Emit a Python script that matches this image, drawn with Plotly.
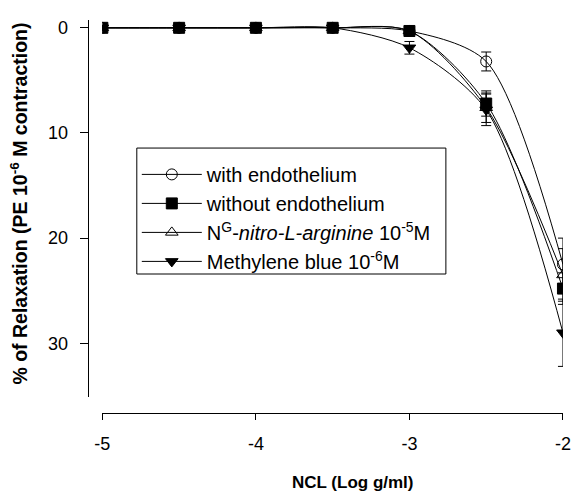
import plotly.graph_objects as go

log_conc = [-5, -4.5, -4, -3.5, -3, -2.5, -2]

with_endo = [0, 0, 0, 0, 0.3, 3.2, 22.5]
with_endo_err = [0.2, 0.2, 0.2, 0.2, 0.3, 0.9, 2.5]

without_endo = [0, 0, 0, 0, 0.3, 7.2, 24.8]
without_endo_err = [0.2, 0.2, 0.2, 0.2, 0.3, 1.2, 1.5]

nna = [0, 0, 0, 0, 0.3, 7.6, 23.5]
nna_err = [0.2, 0.2, 0.2, 0.2, 0.3, 1.4, 2.5]

mb = [0, 0, 0, 0, 1.9, 7.8, 29.0]
mb_err = [0.2, 0.2, 0.2, 0.2, 0.6, 1.5, 3.2]

names = [
    "with endothelium",
    "without endothelium",
    "N<sup>G</sup>-<i>nitro-L-arginine</i> 10<sup>-5</sup>M",
    "Methylene blue 10<sup>-6</sup>M",
]
symbols = ["circle-open", "square", "triangle-up-open", "triangle-down"]
series = [with_endo, without_endo, nna, mb]
errors = [with_endo_err, without_endo_err, nna_err, mb_err]

FONT = "Liberation Sans, Arial, sans-serif"

fig = go.Figure()
for name, sym, ys, es in zip(names, symbols, series, errors):
    fig.add_trace(go.Scatter(
        x=log_conc, y=ys, name=name, mode="lines+markers",
        line=dict(color="black", width=1, shape="spline", smoothing=0.8),
        marker=dict(symbol=sym, size=11, color="black",
                    line=dict(color="black", width=1)),
        error_y=dict(type="data", array=es, color="black", thickness=1, width=5),
    ))

fig.update_layout(
    width=579, height=497,
    margin=dict(l=60, r=5, t=15, b=80),
    paper_bgcolor="white", plot_bgcolor="white",
    font=dict(family=FONT, size=18, color="black"),
    showlegend=True,
    legend=dict(
        x=0.1518, y=0.652, xanchor="left", yanchor="top",
        borderwidth=0, bgcolor="rgba(0,0,0,0)",
        font=dict(family=FONT, size=20, color="black"),
        tracegroupgap=0, itemwidth=60,
    ),
    shapes=[
        dict(type="rect", xref="paper", yref="paper",
             x0=0.1518, x1=0.7626, y0=0.3557, y1=0.669,
             line=dict(color="black", width=1), fillcolor="rgba(0,0,0,0)",
             layer="below"),
    ],
    xaxis=dict(
        domain=[0.0837, 0.994], range=[-5, -2],
        tickvals=[-5, -4, -3, -2], ticktext=["-5", "-4", "-3", "-2"],
        ticks="outside", ticklen=6, tickwidth=1, tickcolor="black",
        showline=True, linecolor="black", linewidth=1,
        showgrid=False, zeroline=False,
        anchor="free", position=0.01,
        tickfont=dict(size=18), ticklabelstandoff=8,
    ),
    yaxis=dict(
        domain=[0.05, 0.988], range=[35.1, -0.76],
        tickvals=[0, 10, 20, 30],
        ticks="outside", ticklen=8, tickwidth=1, tickcolor="black",
        showline=True, linecolor="black", linewidth=1,
        showgrid=False, zeroline=False,
        anchor="free", position=0.0545,
        tickfont=dict(size=18), ticklabelstandoff=8,
    ),
    annotations=[
        dict(text="<b>NCL (Log g/ml)</b>", xref="paper", yref="paper",
             x=0.58, y=-0.164, xanchor="center", yanchor="middle",
             showarrow=False, font=dict(size=17)),
        dict(text="<b>% of Relaxation (PE 10<sup>-6</sup> M contraction)</b>",
             xref="paper", yref="paper", x=-0.0817, y=0.53,
             xanchor="center", yanchor="middle", textangle=-90,
             showarrow=False, font=dict(size=19.5)),
    ],
)

fig.write_html("out.html")
